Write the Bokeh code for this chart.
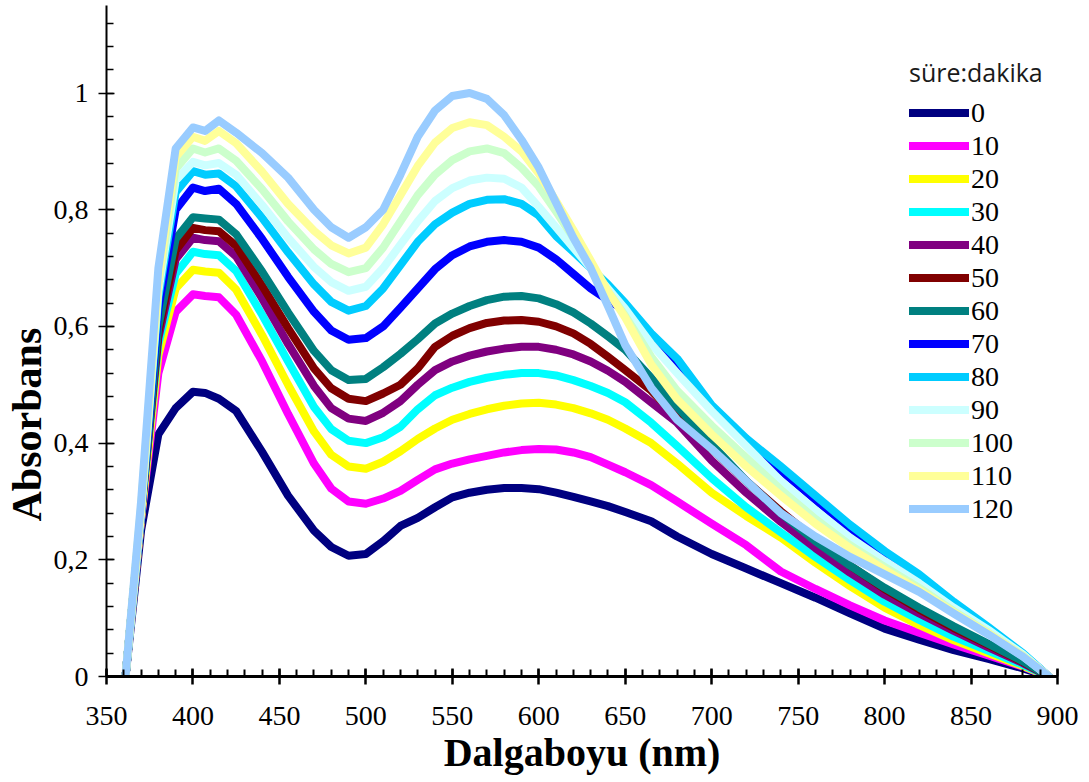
from bokeh.plotting import figure
from bokeh.models import Range1d, FixedTicker, Legend, LegendItem, Title
from bokeh.embed import file_html
from bokeh.resources import INLINE

wavelength = [361, 370, 380, 390, 400, 407, 415, 425, 440, 455, 470, 480, 490, 500,
              510, 520, 530, 540, 550, 560, 570, 580, 590, 600, 610, 620, 630, 640,
              650, 665, 680, 700, 720, 740, 760, 780, 800, 820, 840, 860, 880, 895]

minutes = ["0", "10", "20", "30", "40", "50", "60", "70", "80", "90", "100", "110", "120"]

a_0 = [0, .25, .415, .46, .488, .486, .476, .455, .385, .31, .25, .222, .207, .21,
       .232, .258, .272, .29, .307, .315, .32, .323, .323, .321, .315, .308, .30, .292,
       .282, .266, .24, .21, .185, .16, .135, .108, .082, .063, .045, .03, .014, 0]
a_10 = [0, .27, .52, .625, .655, .652, .65, .62, .54, .45, .365, .322, .30, .296,
        .305, .318, .337, .355, .365, .372, .378, .384, .388, .39, .389, .384, .376, .363,
        .35, .328, .30, .262, .225, .18, .15, .122, .096, .075, .055, .036, .017, 0]
a_20 = [0, .27, .55, .665, .697, .694, .692, .663, .585, .50, .42, .38, .36, .356,
        .368, .386, .407, .425, .44, .45, .458, .464, .468, .469, .466, .46, .451, .44,
        .425, .40, .365, .315, .275, .238, .195, .155, .118, .088, .062, .04, .018, 0]
a_30 = [0, .28, .57, .69, .728, .724, .722, .695, .62, .54, .462, .424, .404, .40,
        .41, .428, .458, .482, .495, .505, .512, .517, .52, .52, .516, .508, .498, .486,
        .47, .435, .395, .34, .29, .247, .205, .165, .128, .097, .068, .044, .02, 0]
a_40 = [0, .28, .58, .715, .752, .748, .746, .72, .648, .57, .498, .46, .442, .438,
        .452, .472, .50, .525, .54, .55, .557, .562, .565, .565, .56, .552, .54, .524,
        .505, .47, .435, .37, .315, .265, .22, .178, .14, .108, .078, .05, .023, 0]
a_50 = [0, .28, .59, .73, .769, .765, .763, .738, .67, .597, .528, .494, .476, .472,
        .485, .50, .528, .565, .584, .597, .606, .61, .611, .608, .60, .588, .57, .548,
        .525, .49, .445, .39, .335, .283, .235, .19, .15, .115, .083, .054, .025, 0]
a_60 = [0, .28, .60, .75, .787, .785, .783, .758, .694, .624, .558, .525, .508, .51,
        .53, .553, .578, .605, .622, .635, .645, .651, .652, .648, .638, .624, .605, .583,
        .56, .512, .462, .398, .335, .28, .232, .19, .152, .118, .086, .056, .026, 0]
a_70 = [0, .28, .63, .80, .838, .832, .836, .81, .75, .685, .625, .593, .577, .58,
        .60, .632, .665, .698, .722, .737, .745, .748, .745, .735, .715, .69, .665, .645,
        .628, .58, .538, .458, .40, .353, .303, .254, .21, .17, .124, .082, .038, 0]
a_80 = [0, .28, .65, .83, .866, .86, .862, .84, .786, .727, .672, .642, .627, .635,
        .665, .705, .745, .775, .795, .81, .817, .818, .81, .79, .755, .728, .70, .672,
        .64, .588, .545, .465, .408, .36, .31, .26, .215, .175, .128, .085, .04, 0]
a_90 = [0, .28, .66, .85, .882, .876, .88, .86, .808, .752, .702, .676, .661, .668,
        .70, .74, .78, .815, .837, .85, .855, .853, .838, .805, .77, .735, .70, .665,
        .63, .57, .52, .455, .395, .335, .285, .238, .198, .16, .118, .08, .038, 0]
a_100 = [0, .29, .67, .87, .905, .898, .905, .884, .835, .78, .732, .707, .693, .70,
         .735, .78, .825, .86, .885, .90, .905, .897, .872, .84, .797, .752, .705, .66,
         .618, .548, .49, .43, .375, .32, .27, .225, .188, .152, .112, .075, .036, 0]
a_110 = [0, .29, .68, .89, .925, .918, .935, .914, .865, .81, .764, .739, .725, .735,
         .775, .825, .875, .915, .94, .95, .945, .925, .90, .862, .815, .765, .713, .66,
         .615, .535, .475, .415, .36, .31, .262, .22, .183, .148, .11, .074, .035, 0]
a_120 = [0, .30, .70, .905, .941, .935, .953, .932, .897, .855, .80, .77, .752, .77,
         .80, .86, .925, .97, .995, 1.0, .99, .962, .92, .872, .812, .752, .70, .635,
         .568, .495, .44, .39, .335, .28, .24, .205, .175, .145, .108, .072, .034, 0]

colors = ["#000080", "#FF00FF", "#FFFF00", "#00FFFF", "#800080", "#800000", "#008080",
          "#0000FF", "#00CCFF", "#CCFFFF", "#CCFFCC", "#FFFF99", "#99CCFF"]

x_major = [350, 400, 450, 500, 550, 600, 650, 700, 750, 800, 850, 900]
x_minor = list(range(350, 901, 10))
y_major = [0, 0.2, 0.4, 0.6, 0.8, 1.0]
y_minor = [round(i * 0.04, 2) for i in range(0, 29)]
y_labels = {0: "0", 0.2: "0,2", 0.4: "0,4", 0.6: "0,6", 0.8: "0,8", 1.0: "1"}

series = [a_0, a_10, a_20, a_30, a_40, a_50, a_60, a_70, a_80, a_90, a_100, a_110, a_120]

SERIF = "'Liberation Serif', 'Times New Roman', serif"

p = figure(width=1089, height=782, output_backend="svg", toolbar_location=None,
           x_range=Range1d(350, 900), y_range=Range1d(0, 1.15),
           min_border_top=5, min_border_right=32, min_border_left=105, min_border_bottom=106)
p.outline_line_color = None
p.grid.visible = False
p.background_fill_color = "white"
p.border_fill_color = "white"

items = []
for vals, col, lab in zip(series, colors, minutes):
    r = p.line(wavelength, vals, line_color=col, line_width=8,
               line_join="round", line_cap="round")
    items.append(LegendItem(label=lab, renderers=[r]))

xa = p.xaxis[0]
xa.ticker = FixedTicker(ticks=x_major, minor_ticks=x_minor)
xa.axis_line_width = 3
xa.major_tick_line_width = 2.5
xa.minor_tick_line_width = 2
xa.major_tick_in = 8
xa.major_tick_out = 8
xa.minor_tick_in = 7
xa.minor_tick_out = 0
xa.major_label_text_font = SERIF
xa.major_label_text_font_size = "28px"
xa.major_label_text_color = "black"
xa.major_label_standoff = 22
xa.axis_label = "Dalgaboyu (nm)"
xa.axis_label_text_font = SERIF
xa.axis_label_text_font_style = "bold"
xa.axis_label_text_font_size = "40px"
xa.axis_label_text_color = "black"
xa.axis_label_standoff = 2

ya = p.yaxis[0]
ya.ticker = FixedTicker(ticks=y_major, minor_ticks=y_minor)
ya.major_label_overrides = y_labels
ya.axis_line_width = 2
ya.major_tick_line_width = 1.5
ya.minor_tick_line_width = 1.5
ya.major_tick_in = 8
ya.major_tick_out = 8
ya.minor_tick_in = 7
ya.minor_tick_out = 0
ya.major_label_text_font = SERIF
ya.major_label_text_font_size = "28px"
ya.major_label_text_color = "black"
ya.major_label_standoff = 10

# y-axis title, placed lower than centre as in the original
ytitle = Title(text="Absorbans", align="left", offset=155, standoff=2,
               text_font=SERIF, text_font_style="bold", text_font_size="42px",
               text_color="black")
p.add_layout(ytitle, "left")

legend = Legend(items=items, location=(803, 151), title="süre:dakika",
                title_text_font="Open Sans", title_text_font_size="25px",
                title_text_font_style="normal",
                title_text_color="#1a1a1a", title_standoff=7,
                label_text_font=SERIF, label_text_font_size="28px",
                label_text_color="black",
                glyph_width=60, glyph_height=33, label_height=20, spacing=0,
                label_standoff=2, padding=2, margin=0,
                border_line_color=None, background_fill_alpha=0)
p.add_layout(legend)

open("out.html", "w").write(file_html(p, INLINE))
